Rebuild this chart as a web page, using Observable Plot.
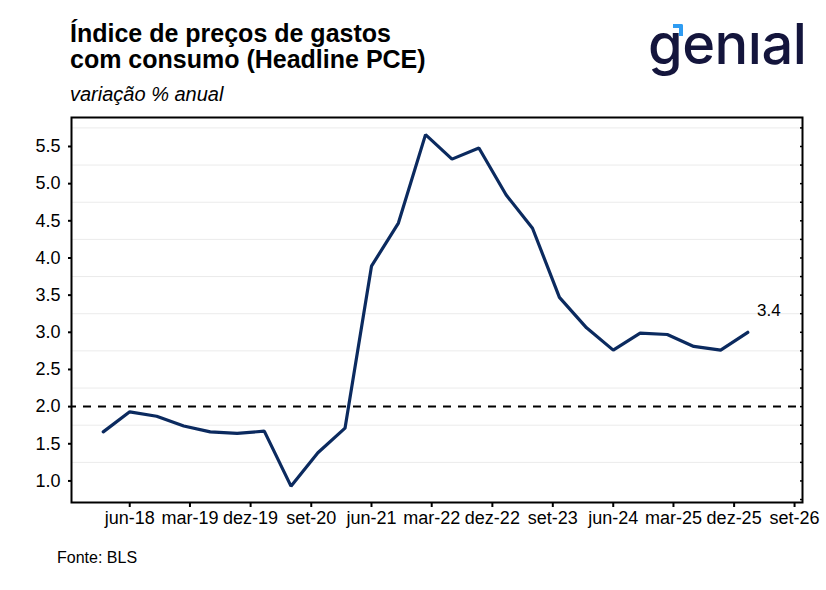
<!DOCTYPE html>
<html>
<head>
<meta charset="utf-8">
<script src="https://cdn.jsdelivr.net/npm/d3@7"></script>
<script src="https://cdn.jsdelivr.net/npm/@observablehq/plot@0.6"></script>
<style>
  html, body { margin: 0; padding: 0; background: #fff; width: 826px; overflow: hidden; }
  #header { position: relative; height: 110px; width: 826px; font-family: "Liberation Sans", Arial, sans-serif; }
  #title { position: absolute; left: 70px; top: 20px; font-size: 25px; font-weight: bold; line-height: 26px; color: #000; }
  #subtitle { position: absolute; left: 70px; top: 82px; font-size: 20px; font-style: italic; color: #000; line-height: 24px; }
  #logo { position: absolute; left: 648px; top: 9px; font-family: Inter, "Noto Sans", sans-serif; font-weight: 500; font-size: 56px; color: #14153c; letter-spacing: -0.5px; line-height: 70px; }
  #accent { position: absolute; left: 673px; top: 24px; width: 6px; height: 8px; border-top: 4px solid #2f9cf2; border-right: 4px solid #2f9cf2; border-top-right-radius: 2px; }
  #caption { font-family: "Liberation Sans", Arial, sans-serif; font-size: 16px; margin-left: 57px; margin-top: 7px; line-height: 18px; color: #000; }
  svg { display: block; }
</style>
</head>
<body>
<div id="header">
  <div id="title">Índice de preços de gastos<br>com consumo (Headline PCE)</div>
  <div id="subtitle">variação % anual</div>
  <div id="logo">genıal</div>
  <div id="accent"></div>
</div>
<div id="chart"></div>
<div id="caption">Fonte: BLS</div>
<script>
const dates = ["2018-02","2018-06","2018-10","2019-02","2019-06","2019-10","2020-02","2020-06","2020-10","2021-02","2021-06","2021-10","2022-02","2022-06","2022-10","2023-02","2023-06","2023-10","2024-02","2024-06","2024-10","2025-02","2025-06","2025-10","2026-02"];
const values = [1.66,1.93,1.87,1.74,1.66,1.64,1.67,0.93,1.38,1.71,3.89,4.47,5.66,5.33,5.48,4.85,4.40,3.47,3.06,2.76,2.99,2.97,2.81,2.76,3.00];
const lastLabel = "3.4";
const xTickDates = ["2018-06","2019-03","2019-12","2020-09","2021-06","2022-03","2022-12","2023-09","2024-06","2025-03","2025-12","2026-09"];
const xTickLabels = ["jun-18","mar-19","dez-19","set-20","jun-21","mar-22","dez-22","set-23","jun-24","mar-25","dez-25","set-26"];
const yTicks = [1.0,1.5,2.0,2.5,3.0,3.5,4.0,4.5,5.0,5.5];
const yMinorGrid = [1.25,1.75,2.25,2.75,3.25,3.75,4.25,4.75,5.25,5.75];
const yRightTicks = [0.75,1.0,1.25,1.5,1.75,2.0,2.25,2.5,2.75,3.0,3.25,3.5,3.75,4.0,4.25,4.5,4.75,5.0,5.25,5.5,5.75];
const refLine = [2];
const xDomain = ["2017-09-10","2026-10-07"];
const yDomain = [0.71, 5.89];

const parse = d3.utcParse("%Y-%m");
const data = dates.map((d, i) => ({date: parse(d), value: values[i]}));
const tickDates = xTickDates.map(parse);
const labelMap = new Map(tickDates.map((d, i) => [+d, xTickLabels[i]]));

const chart = Plot.plot({
  width: 826,
  height: 432,
  marginLeft: 71,
  marginRight: 24,
  marginTop: 7,
  marginBottom: 40,
  style: {fontFamily: "'Liberation Sans', Arial, sans-serif", fontSize: "18px", color: "#000", background: "#fff"},
  x: {type: "utc", domain: xDomain.map(d => d3.utcParse("%Y-%m-%d")(d))},
  y: {domain: yDomain},
  marks: [
    Plot.ruleY(yMinorGrid, {stroke: "#ebebeb", strokeWidth: 1}),
    Plot.ruleY(refLine, {stroke: "#000", strokeWidth: 2, strokeDasharray: "8,7", strokeDashoffset: 3}),
    Plot.line(data, {x: "date", y: "value", stroke: "#0b2a5f", strokeWidth: 3.2, strokeLinejoin: "miter"}),
    Plot.text([data[data.length - 1]], {x: "date", y: "value", text: () => lastLabel, dx: 21, dy: -22, fontSize: 17, fill: "#000"}),
    Plot.frame({stroke: "#000", strokeWidth: 2}),
    Plot.axisX({ticks: tickDates, tickFormat: d => labelMap.get(+d), tickSize: 5, tickPadding: 4, strokeWidth: 2, label: null, fontSize: 18}),
    Plot.axisY({ticks: yTicks, tickFormat: d3.format(".1f"), tickSize: 3, tickPadding: 8, strokeWidth: 2, label: null, fontSize: 18}),
    Plot.axisY({anchor: "right", ticks: yRightTicks, tickSize: -3, tickFormat: () => "", strokeWidth: 1.5, label: null})
  ]
});
document.getElementById("chart").appendChild(chart);
</script>
</body>
</html>
